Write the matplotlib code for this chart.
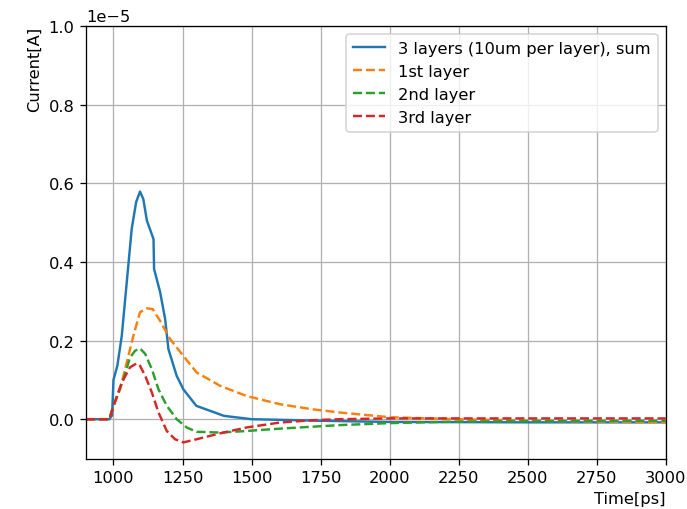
import numpy as np
import matplotlib.pyplot as plt

# time [ps] and currents [A]
t_sum = [900, 985, 995, 1000, 1014, 1030, 1048, 1066, 1082, 1096, 1108, 1121, 1145,
         1147, 1169, 1187, 1199, 1229, 1253, 1300, 1400, 1500, 1750, 2000, 2500, 3000]
i_sum = [0, 0, 0.01, 0.10, 0.136, 0.212, 0.348, 0.484, 0.552, 0.579, 0.560, 0.505, 0.458,
         0.382, 0.323, 0.255, 0.178, 0.110, 0.076, 0.034, 0.0085, 0.0, -0.004, -0.007, -0.008, -0.008]

t_l1 = [900, 985, 1000, 1024, 1048, 1072, 1096, 1121, 1142, 1169, 1205, 1253, 1301,
        1386, 1482, 1603, 1723, 1820, 2000, 2250, 2500, 3000]
i_l1 = [0, 0, 0.034, 0.076, 0.144, 0.212, 0.272, 0.282, 0.280, 0.250, 0.204, 0.161, 0.119,
        0.085, 0.059, 0.038, 0.025, 0.017, 0.005, 0.0, -0.004, -0.008]

t_l2 = [900, 985, 1000, 1036, 1060, 1078, 1096, 1115, 1139, 1163, 1193, 1229, 1265,
        1301, 1386, 1482, 1603, 1723, 1820, 2000, 2250, 2500, 3000]
i_l2 = [0, 0, 0.034, 0.102, 0.157, 0.174, 0.180, 0.166, 0.127, 0.076, 0.034, 0.0, -0.021,
        -0.032, -0.034, -0.030, -0.024, -0.019, -0.015, -0.010, -0.006, -0.005, -0.004]

t_l3 = [900, 985, 1000, 1030, 1060, 1084, 1096, 1115, 1139, 1163, 1193, 1223, 1253,
        1301, 1386, 1482, 1603, 1723, 1820, 2000, 2500, 3000]
i_l3 = [0, 0, 0.034, 0.093, 0.132, 0.142, 0.136, 0.110, 0.068, 0.017, -0.030, -0.051, -0.059,
        -0.051, -0.036, -0.021, -0.0085, -0.0025, 0.0, 0.002, 0.002, 0.002]

scale = 1e-5

# reference looks like a default figure rendered a bit larger, so use dpi 117
fig = plt.figure(figsize=(687 / 117, 510 / 117), dpi=117)
ax = fig.add_axes([0.125, 0.099, 0.844, 0.848])
ax.plot(t_sum, np.array(i_sum) * scale, label='3 layers (10um per layer), sum')
ax.plot(t_l1, np.array(i_l1) * scale, '--', label='1st layer')
ax.plot(t_l2, np.array(i_l2) * scale, '--', label='2nd layer')
ax.plot(t_l3, np.array(i_l3) * scale, '--', label='3rd layer')
ax.set_xlim(900, 3000)
ax.set_ylim(-0.1e-5, 1.0e-5)
ax.grid(True)
ax.set_xlabel('Time[ps]', loc='right')
ax.set_ylabel('Current[A]', loc='top')
ax.legend(loc='upper right')
fig.savefig('out.png', dpi=117)
